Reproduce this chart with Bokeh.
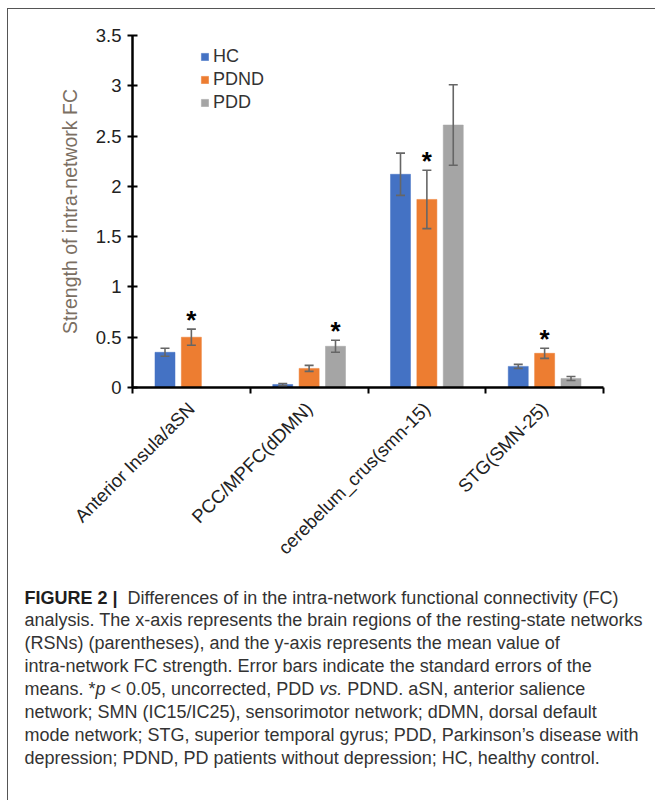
import math
from bokeh.plotting import figure
from bokeh.models import (ColumnDataSource, Range1d, FixedTicker, NumeralTickFormatter,
                          Whisker, TeeHead, Legend, LegendItem)
from bokeh.core.properties import value
from bokeh.embed import file_html
from bokeh.resources import INLINE

# ---------------- data ----------------
categories = ["Anterior Insula/aSN", "PCC/MPFC(dDMN)", "cerebelum_crus(smn-15)", "STG(SMN-25)"]
groups = ["HC", "PDND", "PDD"]
hc_mean = [0.35, 0.03, 2.12, 0.21]
hc_se = [0.04, 0.01, 0.21, 0.02]
pdnd_mean = [0.50, 0.19, 1.87, 0.34]
pdnd_se = [0.08, 0.03, 0.29, 0.05]
pdd_mean = [float("nan"), 0.41, 2.61, 0.09]
pdd_se = [float("nan"), 0.06, 0.40, 0.02]
star_group = ["PDND", "PDD", "PDND", "PDND"]
y_ticks = [0, 0.5, 1, 1.5, 2, 2.5, 3, 3.5]
colors = {"HC": "#4472C4", "PDND": "#ED7D31", "PDD": "#A5A5A5"}

FONT = "Liberation Sans"

# page geometry
OX, OY = 8, 9
FIG_W = 648
CHART_H = 562
CAP_H = 230
FL, FR, FT, FB = 132, 603, 35, 387   # chart frame edges on the page
YMAX = 3.5
XMAX = len(categories)
BORDER = "1px solid #555555"

p = figure(width=FIG_W, height=CHART_H, output_backend="svg", toolbar_location=None,
           x_range=Range1d(0, XMAX), y_range=Range1d(0, YMAX),
           min_border_left=FL - OX, min_border_right=OX + FIG_W - FR,
           min_border_top=FT - OY, min_border_bottom=OY + CHART_H - FB,
           styles={"margin-left": "7px", "margin-top": "8px",
                   "border-left": BORDER, "border-top": BORDER})
p.outline_line_color = None
p.xgrid.visible = False
p.ygrid.visible = False
p.background_fill_color = "white"
p.border_fill_color = "white"

means = {"HC": hc_mean, "PDND": pdnd_mean, "PDD": pdd_mean}
ses = {"HC": hc_se, "PDND": pdnd_se, "PDD": pdd_se}
slot = 0.224
bar_w = 0.17
legend_items = []
for gi, g in enumerate(groups):
    xs = [i + 0.5 + (gi - 1) * slot for i in range(len(categories))]
    m = means[g]
    s = ses[g]
    src = ColumnDataSource(dict(x=xs, top=m,
                                upper=[a + b for a, b in zip(m, s)],
                                lower=[a - b for a, b in zip(m, s)]))
    r = p.vbar(x="x", top="top", width=bar_w, bottom=0, source=src,
               fill_color=colors[g], line_color=colors[g], line_width=0.5)
    legend_items.append(LegendItem(label=g, renderers=[r]))
    w = Whisker(base="x", upper="upper", lower="lower", source=src, level="overlay",
                line_color="#666666", line_width=1.6,
                upper_head=TeeHead(size=9, line_color="#666666", line_width=1.6),
                lower_head=TeeHead(size=9, line_color="#666666", line_width=1.6))
    p.add_layout(w)

# significance stars
star_x = [i + 0.5 + (groups.index(g) - 1) * slot for i, g in enumerate(star_group)]
star_y = [means[g][i] + ses[g][i] for i, g in enumerate(star_group)]
p.text(x=star_x, y=star_y, text=["*"] * len(star_x), text_align="center",
       text_baseline="alphabetic", y_offset=-9, text_font=value(FONT),
       text_font_size="26px", text_font_style="bold", text_color="black")

# axes
xa = p.xaxis[0]
xa.ticker = FixedTicker(ticks=[i + 0.5 for i in range(len(categories))],
                        minor_ticks=list(range(len(categories) + 1)))
xa.major_label_overrides = {i + 0.5: c for i, c in enumerate(categories)}
xa.major_label_orientation = math.pi / 4
xa.major_tick_line_color = None
xa.major_tick_in = 0
xa.major_tick_out = 6
xa.minor_tick_in = 0
xa.minor_tick_out = 6
xa.minor_tick_line_color = "black"
xa.minor_tick_line_width = 2
xa.axis_line_color = "black"
xa.axis_line_width = 2.5
xa.major_label_text_font = FONT
xa.major_label_text_font_size = "18.5px"
xa.major_label_text_color = "#222222"
xa.major_label_standoff = 12

ya = p.yaxis[0]
ya.ticker = FixedTicker(ticks=y_ticks)
ya.formatter = NumeralTickFormatter(format="0.[0]")
ya.major_tick_in = 5
ya.major_tick_out = 5
ya.major_tick_line_width = 2
ya.major_tick_line_color = "black"
ya.minor_tick_line_color = None
ya.axis_line_color = "black"
ya.axis_line_width = 2.5
ya.major_label_text_font = FONT
ya.major_label_text_font_size = "18.5px"
ya.major_label_text_color = "#222222"
ya.major_label_standoff = 6
ya.axis_label = "Strength of intra-network FC"
ya.axis_label_text_font = FONT
ya.axis_label_text_font_size = "19.5px"
ya.axis_label_text_font_style = "normal"
ya.axis_label_text_color = "#7b6f63"
ya.axis_label_standoff = 12

legend = Legend(items=legend_items, location=(68, 274), orientation="vertical",
                glyph_width=9, glyph_height=9, label_height=20, spacing=2,
                label_standoff=4, padding=0, margin=0,
                label_text_font=FONT, label_text_font_size="18px",
                label_text_color="#333333",
                border_line_color=None, background_fill_alpha=0)
p.add_layout(legend)

# ---------------- caption ----------------
W_REG = {' ': 278, '!': 278, '"': 355, '#': 556, '$': 556, '%': 889, '&': 667, "'": 191,
         '(': 333, ')': 333, '*': 389, '+': 584, ',': 278, '-': 333, '.': 278, '/': 278,
         ':': 278, ';': 278, '<': 584, '=': 584, '>': 584, '?': 556, '|': 260, '’': 222,
         'A': 667, 'B': 667, 'C': 722, 'D': 722, 'E': 667, 'F': 611, 'G': 778, 'H': 722,
         'I': 278, 'J': 500, 'K': 667, 'L': 556, 'M': 833, 'N': 722, 'O': 778, 'P': 667,
         'Q': 778, 'R': 722, 'S': 667, 'T': 611, 'U': 722, 'V': 667, 'W': 944, 'X': 667,
         'Y': 667, 'Z': 611,
         'a': 556, 'b': 556, 'c': 500, 'd': 556, 'e': 556, 'f': 278, 'g': 556, 'h': 556,
         'i': 222, 'j': 222, 'k': 500, 'l': 222, 'm': 833, 'n': 556, 'o': 556, 'p': 556,
         'q': 556, 'r': 333, 's': 500, 't': 278, 'u': 556, 'v': 500, 'w': 722, 'x': 500,
         'y': 500, 'z': 500}
W_BOLD = {' ': 278, 'F': 611, 'I': 278, 'G': 778, 'U': 722, 'R': 722, 'E': 667, '|': 280}


def text_width(s, size, style):
    table = W_BOLD if style == "bold" else W_REG
    return sum(table.get(ch, W_REG.get(ch, 556)) for ch in s) * size / 1000.0


caption = [
    [("FIGURE 2 |", "bold"), ("  Differences of in the intra-network functional connectivity (FC)", "normal")],
    [("analysis. The x-axis represents the brain regions of the resting-state networks", "normal")],
    [("(RSNs) (parentheses), and the y-axis represents the mean value of", "normal")],
    [("intra-network FC strength. Error bars indicate the standard errors of the", "normal")],
    [("means. *", "normal"), ("p", "italic"), (" < 0.05, uncorrected, PDD ", "normal"),
     ("vs.", "italic"), (" PDND. aSN, anterior salience", "normal")],
    [("network; SMN (IC15/IC25), sensorimotor network; dDMN, dorsal default", "normal")],
    [("mode network; STG, superior temporal gyrus; PDD, Parkinson’s disease with", "normal")],
    [("depression; PDND, PD patients without depression; HC, healthy control.", "normal")],
]

c = figure(width=FIG_W, height=CAP_H, output_backend="svg", toolbar_location=None,
           x_range=Range1d(0, FIG_W), y_range=Range1d(CAP_H, 0),
           x_axis_location=None, y_axis_location=None,
           min_border=0, min_border_left=0, min_border_right=0,
           min_border_top=0, min_border_bottom=0,
           styles={"margin-left": "7px", "border-left": BORDER})
c.outline_line_color = None
c.xgrid.visible = False
c.ygrid.visible = False
c.background_fill_color = "white"
c.border_fill_color = "white"

CAP_TOP = OY + CHART_H          # page y of caption figure top
CAP_SIZE = 18
CAP_X0 = 24                     # page x of caption text
CAP_Y0 = 598                    # page y of first caption line
CAP_LH = 22.9
for li, pieces in enumerate(caption):
    xpos = CAP_X0
    for txt, style in pieces:
        lead = len(txt) - len(txt.lstrip(" "))
        core = txt.strip(" ")
        x_draw = xpos + text_width(" " * lead, CAP_SIZE, style)
        c.text(x=[x_draw - OX], y=[CAP_Y0 + li * CAP_LH - CAP_TOP], text=[core],
               text_align="left", text_baseline="middle", text_font=value(FONT),
               text_font_size=f"{CAP_SIZE}px", text_font_style=style,
               text_color="#1e1e1e" if style == "bold" else "#333333")
        xpos += text_width(txt, CAP_SIZE, style)

open("out.html", "w").write(file_html([p, c], INLINE))
